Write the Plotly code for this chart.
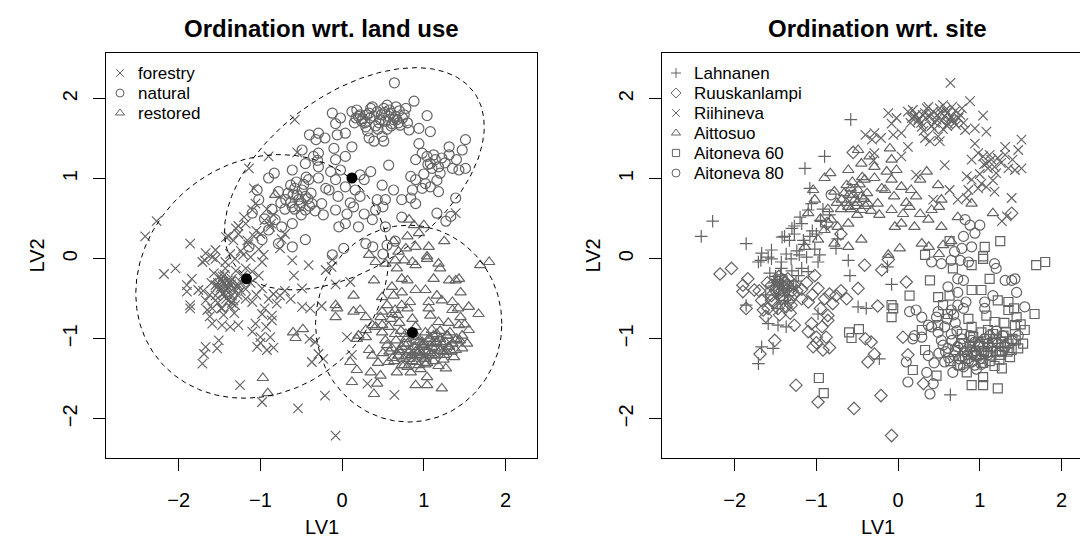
import numpy as np
import plotly.graph_objects as go

# ---------------- data ----------------
sites = ["Lahnanen", "Ruuskanlampi", "Riihineva", "Aittosuo", "Aitoneva 60", "Aitoneva 80"]
site_land_use = ["forestry", "forestry", "natural", "natural", "restored", "restored"]
land_uses = ["forestry", "natural", "restored"]

lahnanen_x = [-2.41, -2.27, -1.86, -0.58, -0.90, -1.14, -1.08, -1.39, -1.27, -1.10, -1.06, -1.18, -1.55, -1.67,
              -1.42, -1.37, -1.59, -1.68, -1.16, -1.71, -1.86, -1.59, -1.47, -1.37, -1.67, -1.53, -1.71,
              -0.98, -0.59, -0.49, -0.39, -0.08, -0.23, 0.64, -0.74, -1.55, -1.43, -1.31, -1.18, -1.10, -0.98,
              -1.22, -1.35, -0.61, -1.27, -1.33, -1.00, -0.76, -1.45, -1.40, -1.50, -1.28, -1.62, -1.44, -1.36,
              -1.52, -0.13, -0.96,
              -1.48, -1.41, -1.33, -1.46, -1.39, -1.52, -1.30, -1.25, -1.57, -1.35, -1.43, -1.21, -1.15, -1.05,
              -0.95, -1.20, -1.02, -0.88, -1.12, -0.92, -1.30, -1.24, -1.08, -0.84, -1.48]
lahnanen_y = [0.28, 0.47, 0.19, 1.74, 1.28, 1.13, 0.88, 0.28, 0.41, 0.61, 0.69, 0.44, 0.11, 0.07,
              0.27, 0.06, 0.02, -0.02, 0.23, -0.04, -0.58, -0.81, -0.83, -0.85, -1.10, -1.12, -1.31,
              -0.69, -0.21, -0.60, -0.62, -0.32, -1.25, -1.70, 0.25, 0.00, -0.04, 0.00, -0.12, -0.16, -0.04,
              -0.21, -0.46, -0.02, 0.31, 0.23, 0.31, 0.13, -0.30, -0.38, -0.22, -0.35, -0.45, -0.20, -0.28,
              -0.34, -0.10, 0.05,
              -0.26, -0.33, -0.37, -0.44, -0.52, -0.30, -0.15, -0.28, -0.18, -0.55, -0.12, 0.05, 0.18, 0.35,
              0.48, 0.52, 0.12, 0.40, 0.02, 0.62, 0.38, 0.10, 0.28, 0.55, -0.62]

ruuskanlampi_x = [-2.18, -2.04, -1.84, -1.90, -1.90, -1.76, -1.67, -1.86, -1.65, -1.59, -1.55, -1.47, -1.35,
                  -1.27, -1.18, -1.10, -1.02, -0.98, -0.90, -0.84, -0.76, -0.63, -0.49, -0.41, -0.86, -0.86,
                  -1.06, -1.10, -1.00, -1.04, -0.92, -0.84, -1.27, -1.51, -1.69, -1.25, -0.98, -0.54, -0.37,
                  -1.55, -1.43, -1.31, -1.47, -0.12, -0.20, 0.10, -0.25, 0.06, 0.12, 0.31, -0.21, -0.08,
                  -0.33, -0.29, -0.40, -0.55, 1.39, -0.87, -0.70, -1.40, -1.45, -1.38, -1.50, -1.42, -1.30,
                  -1.42, -1.36, -1.49, -1.55, -1.33, -1.46, -1.28, -1.40, -1.60, -1.24, -1.52, -1.37, -1.18,
                  -1.70, -1.62, -1.12, -1.05, -0.95, -0.80, -0.70, -0.93, -1.00, -0.88, -1.45, -1.32]
ruuskanlampi_y = [-0.19, -0.12, -0.25, -0.33, -0.41, -0.39, -0.52, -0.62, -0.64, -0.62, -0.33, -0.29, -0.25,
                  -0.33, -0.50, -0.54, -0.21, -0.37, -0.50, -0.44, -0.46, -0.50, -0.37, -0.08, -0.71, -0.77,
                  -0.81, -0.91, -0.98, -1.10, -1.14, -1.11, -0.83, -1.02, -1.19, -1.58, -1.79, -1.87, -1.29,
                  -0.52, -0.46, -0.58, -0.62, -0.01, -0.14, -0.29, -0.59, -0.98, -1.20, -1.56, -1.71, -2.21,
                  -1.04, -1.19, -1.00, 1.33, 0.57, 0.44, 0.31, -0.35, -0.42, -0.30, -0.40, -0.50, -0.40,
                  -0.40, -0.32, -0.36, -0.46, -0.52, -0.22, -0.45, -0.27, -0.30, -0.40, -0.55, -0.60, -0.38,
                  -0.40, -0.72, -0.30, -0.45, -0.62, -0.56, -0.40, -0.85, -1.05, -0.98, -0.70, -0.68]

riihineva_x = [0.64, 0.88, 0.78, 1.04, -0.12, -0.02, -0.08, 0.12, 0.18, 0.20, 0.24, 0.29, 0.33, 0.39, 0.43,
               0.47, 0.51, 0.55, 0.57, 0.61, 0.67, 0.71, 0.76, 0.82, 0.94, 1.08, -0.21, -0.06, 0.04, 0.12,
               0.33, 0.39, 0.49, 0.51, 0.04, -0.29, -0.29, 0.94, 1.31, 1.51, 1.47, 0.90, 0.98, 1.04, 1.08,
               1.14, 1.22, 1.31, 1.10, 1.20, 1.35, 1.43, 1.51, 0.84, 0.90, 1.02, 1.08, 1.18, 0.98, 0.86,
               0.57, 0.22, 0.43, 0.63, 0.73, 0.84, 1.39, 1.27, 1.33, -0.40, -0.32, -0.30, 0.30, 0.45, 0.60,
               0.25, 0.65, 0.15, 0.35, 0.70, 0.55,
               0.28, 0.34, 0.41, 0.48, 0.53, 0.58, 0.63, 0.69, 0.74, 0.22, 0.37, 0.44, 0.52, 0.60, 0.66,
               0.31, 0.80, 0.17, 1.05, 1.12, 1.18, 1.26, 1.16, 1.00, 1.40]
riihineva_y = [2.20, 1.97, 1.88, 1.79, 1.82, 1.76, 1.69, 1.84, 1.86, 1.78, 1.72, 1.65, 1.82, 1.78, 1.84,
               1.74, 1.88, 1.92, 1.78, 1.69, 1.74, 1.67, 1.80, 1.61, 1.63, 1.59, 1.51, 1.55, 1.57, 1.40,
               1.51, 1.47, 1.53, 1.47, 1.28, 1.57, 1.32, 1.44, 1.40, 1.49, 1.36, 1.24, 1.32, 1.28, 1.19,
               1.24, 1.26, 1.30, 1.13, 1.07, 1.13, 1.11, 1.13, 1.03, 0.99, 0.94, 0.90, 0.84, 0.88, 0.86,
               1.17, 1.05, 0.74, 0.86, 0.74, 0.76, 0.76, 0.47, 0.53, 1.55, 1.49, 1.23, 1.80, 1.70, 1.82,
               1.75, 1.78, 1.70, 1.88, 1.85, 1.62,
               1.70, 1.76, 1.66, 1.80, 1.72, 1.86, 1.74, 1.70, 1.76, 1.80, 1.90, 1.62, 1.83, 1.66, 1.90,
               1.60, 1.70, 1.76, 1.18, 1.30, 1.15, 1.20, 0.98, 1.06, 1.24]

aittosuo_x = [-0.90, -0.61, -0.45, -0.78, -0.63, -0.49, -0.41, -0.69, -0.61, -0.53, -0.45, -0.37, -0.35, -0.49,
              -0.82, -0.74, -0.90, -0.61, -1.10, -1.02, -1.14, -0.98, -0.78, -0.61, -0.45, -1.04, -0.83,
              0.06, 0.14, 0.27, 0.50, 0.73, 1.16, 0.375, 0.50, -0.08, -0.10, -0.29, -0.29, -0.14, -0.02,
              -0.08, 0.04, -0.16, 0.16, 0.27, 0.35, 0.49, 0.53, 0.90, -0.25, -0.23, -0.08, 0.04, 0.20,
              0.37, 0.41, 0.53, -0.04, 0.02, 0.29, 0.55, 0.65, -0.12, -0.55, -0.50, -0.45, -0.58, -0.40,
              -0.66, -0.58, -0.52, -0.47, -0.42, -0.70, -0.63, -0.56, -0.38, -0.33, -0.75, -0.50, -0.44,
              -0.60, -0.86, -0.95, -0.20, -0.05, 0.10, 0.22]
aittosuo_y = [1.01, 1.11, 1.19, 0.84, 0.92, 0.86, 0.99, 0.74, 0.65, 0.74, 0.61, 0.69, 1.28, 1.36,
              0.49, 0.40, 0.36, 0.44, 0.57, 0.74, 0.15, 0.24, 0.19, 0.15, 0.24, 0.86, 1.07,
              0.56, 0.65, 0.56, 0.65, 0.52, 0.57, 0.15, 0.06, 1.24, 1.38, 1.15, 1.01, 1.09, 1.11,
              0.99, 0.90, 0.86, 0.86, 0.99, 1.09, 0.92, 0.74, 0.69, 0.69, 0.55, 0.61, 0.44, 0.40,
              0.49, 0.61, 0.40, 0.40, 0.13, 0.19, 0.17, 0.22, 0.05, 0.80, 0.70, 0.78, 0.62, 0.66,
              0.82, 0.88, 0.66, 0.93, 0.75, 0.62, 0.70, 0.96, 0.82, 0.60, 0.70, 0.55, 1.02,
              0.80, 0.62, 0.50, 0.88, 0.78, 0.70, 0.78]

aitoneva60_x = [1.69, 1.80, 1.04, 0.90, 0.67, 0.39, 0.14, -0.08, -0.08, -0.06, 0.90, 1.02, 1.12, 1.22, 1.35,
                1.35, 1.45, 1.67, 1.55, 1.43, 1.53, 0.49, 0.63, 0.55, 0.61, 0.49, 0.29, 0.33, 0.18, 0.47,
                0.86, 0.90, 1.02, 1.08, 1.10, 1.18, 1.20, 1.29, 1.35, 1.27, 1.39, 1.47, 1.14, 1.02, 0.90,
                0.82, 0.76, 0.84, 0.90, 1.04, 1.04, 1.22, 1.27, 1.37, 0.98, 0.78, -0.97, -0.91, -0.60,
                -0.48, -0.57, 1.25, 1.06, 0.63, 1.04, 0.33, 1.10, 1.20, 1.30, 1.15, 1.25, 1.40, 0.95, 1.05,
                0.88, 0.96, 1.04, 1.12, 1.18, 1.26, 1.32, 1.44, 0.92, 1.00, 1.08, 1.16, 1.24, 1.34, 0.80,
                0.70, 1.50, 0.64, 1.30, 1.42]
aitoneva60_y = [-0.08, -0.04, 0.00, -0.08, -0.12, -0.27, -0.46, -0.58, -0.73, -0.62, -0.39, -0.39, -0.25,
                -0.52, -0.54, -0.64, -0.73, -0.69, -0.89, -0.83, -1.06, -0.48, -0.46, -0.58, -0.69, -0.83,
                -0.89, -1.14, -1.39, -1.46, -0.75, -0.85, -0.92, -0.71, -0.89, -0.79, -1.00, -0.96, -1.06,
                -1.16, -1.14, -1.12, -1.21, -1.25, -1.16, -1.25, -1.33, -1.42, -1.58, -1.48, -1.58, -1.62,
                -1.37, -1.23, -1.04, -0.94, -1.49, -1.68, -0.92, -0.88, -0.99, 0.22, 0.15, 0.22, 0.03,
                0.05, -1.10, -1.15, -1.10, -1.05, -1.20, -1.00, -1.20, -1.15,
                -1.10, -1.22, -1.30, -1.28, -1.34, -1.04, -0.92, -1.02, -0.98, -1.06, -1.00, -0.94, -1.26,
                -1.16, -1.06, -1.14, -0.82, -1.28, -0.80, -0.62]

aitoneva80_x = [1.18, 1.20, 0.41, 0.53, 0.65, 0.76, 0.86, 0.73, 0.80, 0.61, 0.73, 1.39, 1.43, 1.31, 1.45,
                1.55, 1.16, 1.06, 1.06, 0.73, 0.80, 0.65, 0.49, 0.47, 0.14, 0.22, 0.29, 0.37, 0.41, 0.20,
                0.29, 0.18, 0.10, 0.12, 0.37, 0.35, 0.43, 0.39, 0.53, 0.55, 0.57, 0.67, 0.65, 0.78, 0.73,
                0.69, 0.82, 0.98, 1.06, 1.10, 0.90, 1.02, 1.14, 1.22, 1.31, 1.39, 1.47, 0.90, 0.57, 0.49,
                0.61, 0.73, 0.94, 0.82, 0.88, 1.00, 0.94, 0.80, 0.78, 0.90, 0.69, -0.82, 0.85, 0.95, 1.00,
                0.75, 0.80, 1.10, 0.70, 0.60,
                0.76, 0.84, 0.92, 1.00, 1.08, 1.16, 1.24, 0.70, 0.78, 0.86, 0.94, 1.02, 0.66, 0.72, 0.62,
                0.58, 0.88, 0.96, 1.12, 1.20, 0.50, 0.44, 0.68, 0.83, 1.28]
aitoneva80_y = [-0.06, -0.12, -0.04, -0.06, -0.02, -0.02, -0.04, -0.25, -0.27, -0.35, -0.42, -0.27, -0.25,
                -0.27, -0.42, -0.60, -0.46, -0.54, -0.62, -0.58, -0.62, -0.64, -0.66, -0.73, -0.66, -0.64,
                -0.73, -0.83, -0.85, -0.96, -0.98, -1.00, -1.29, -1.54, -1.21, -1.42, -1.56, -1.69, -1.02,
                -1.08, -1.29, -1.42, -0.94, -1.00, -1.10, -1.21, -1.16, -1.08, -1.00, -1.06, -1.02, -1.16,
                -1.12, -1.06, -1.10, -1.02, -0.96, -1.29, -0.85, -0.92, -1.12, -1.33, -1.33, 0.49, 0.42,
                0.42, 0.32, 0.28, 0.13, 0.15, 0.09, 0.80, -1.20, -1.15, -1.25, -1.25, -1.35, -1.20, -0.80,
                -0.75,
                -1.06, -1.14, -1.18, -1.10, -1.18, -1.04, -1.16, -1.16, -1.22, -1.28, -1.04, -1.32, -1.02,
                -0.90, -1.24, -1.16, -0.96, -1.38, -0.96, -0.90, -1.18, -1.30, -0.70, -0.54, -0.96]

site_x = [lahnanen_x, ruuskanlampi_x, riihineva_x, aittosuo_x, aitoneva60_x, aitoneva80_x]
site_y = [lahnanen_y, ruuskanlampi_y, riihineva_y, aittosuo_y, aitoneva60_y, aitoneva80_y]

# group centroids and dispersion ellipses (per land use)
centroid_x = [-1.17, 0.12, 0.86]
centroid_y = [-0.25, 1.01, -0.92]
ellipse_cx = [-0.98, 0.15, 0.815]
ellipse_cy = [-0.22, 1.00, -0.81]
ellipse_a = [1.64, 1.82, 1.14]
ellipse_b = [1.42, 1.07, 1.23]
ellipse_angle_deg = [42, 37, 0]

tick_vals = [-2, -1, 0, 1, 2]

# ---------------- styling ----------------
W, H = 1080, 555
ML, MT, MB = 106, 53, 97
PLOT_W = W - ML
PLOT_H = H - MT - MB
PX_X = 81.7          # pixels per LV1 unit
PX_Y = 80.0          # pixels per LV2 unit
X_LO = -2.89
Y_LO = -2.49
Y_HI = Y_LO + PLOT_H / PX_Y
L_LEFT, L_RIGHT = 106, 537
R_LEFT, R_RIGHT = 662, 1080

FONT = "Liberation Sans, Arial, Helvetica, sans-serif"
GRAY = "#646464"
site_symbols = ["cross-thin-open", "diamond-open", "x-thin-open", "triangle-up-open", "square-open", "circle-open"]
land_symbols = ["x-thin-open", "circle-open", "triangle-up-open"]
sym_size = {"cross-thin-open": 9, "diamond-open": 9.5, "x-thin-open": 9.5, "triangle-up-open": 10,
            "square-open": 9, "circle-open": 10}
LW = 1.2


def px2paper_x(px):
    return (px - ML) / PLOT_W


def px2paper_y(py):
    return (H - MB - py) / PLOT_H


fig = go.Figure()

# ---- left panel: land use ----
for g, lu in enumerate(land_uses):
    gx, gy = [], []
    for s in range(len(sites)):
        if site_land_use[s] == lu:
            gx += site_x[s]
            gy += site_y[s]
    sym = land_symbols[g]
    fig.add_trace(go.Scatter(x=gx, y=gy, mode="markers", xaxis="x", yaxis="y", showlegend=False,
                             marker=dict(symbol=sym, size=sym_size[sym], color=GRAY,
                                         line=dict(width=LW, color=GRAY))))

t = np.linspace(0, 2 * np.pi, 240)
for g in range(len(land_uses)):
    phi = np.deg2rad(ellipse_angle_deg[g])
    ex = ellipse_cx[g] + ellipse_a[g] * np.cos(t) * np.cos(phi) - ellipse_b[g] * np.sin(t) * np.sin(phi)
    ey = ellipse_cy[g] + ellipse_a[g] * np.cos(t) * np.sin(phi) + ellipse_b[g] * np.sin(t) * np.cos(phi)
    fig.add_trace(go.Scatter(x=ex, y=ey, mode="lines", xaxis="x", yaxis="y", showlegend=False,
                             line=dict(color="black", width=1, dash="5px,4px")))

fig.add_trace(go.Scatter(x=centroid_x, y=centroid_y, mode="markers", xaxis="x", yaxis="y", showlegend=False,
                         marker=dict(symbol="circle", size=11, color="black")))

# ---- right panel: site ----
for s in range(len(sites)):
    sym = site_symbols[s]
    fig.add_trace(go.Scatter(x=site_x[s], y=site_y[s], mode="markers", xaxis="x2", yaxis="y2",
                             showlegend=False,
                             marker=dict(symbol=sym, size=sym_size[sym], color=GRAY,
                                         line=dict(width=LW, color=GRAY))))

# ---- legends (R style: symbol + text, no box) ----
LEG_ROW0, LEG_DY = 73, 20
LEG_SYM_DX, LEG_TXT_DX = 14, 30
annotations = []


def add_legend(labels, symbols, panel_left, xa, ya):
    for i, (lab, sym) in enumerate(zip(labels, symbols)):
        py = LEG_ROW0 + i * LEG_DY
        sx = X_LO + LEG_SYM_DX / PX_X
        sy = Y_HI - (py - MT) / PX_Y
        fig.add_trace(go.Scatter(x=[sx], y=[sy], mode="markers", xaxis=xa, yaxis=ya, showlegend=False,
                                 marker=dict(symbol=sym, size=sym_size[sym] * 0.8, color=GRAY,
                                             line=dict(width=1.0, color=GRAY))))
        annotations.append(dict(text=lab, x=px2paper_x(panel_left + LEG_TXT_DX), y=px2paper_y(py),
                                xref="paper", yref="paper", xanchor="left", yanchor="middle",
                                showarrow=False, font=dict(family=FONT, size=17, color="black")))


add_legend(land_uses, land_symbols, L_LEFT, "x", "y")
add_legend(sites, site_symbols, R_LEFT, "x2", "y2")

# ---- titles and axis titles ----
for cx, title in [((L_LEFT + L_LEFT + 431) / 2, "Ordination wrt. land use"),
                  ((R_LEFT + R_LEFT + 431) / 2, "Ordination wrt. site")]:
    annotations.append(dict(text="<b>" + title + "</b>", x=px2paper_x(cx), y=px2paper_y(29),
                            xref="paper", yref="paper", xanchor="center", yanchor="middle",
                            showarrow=False, font=dict(family=FONT, size=24, color="black")))
    annotations.append(dict(text="LV1", x=px2paper_x(cx), y=px2paper_y(527),
                            xref="paper", yref="paper", xanchor="center", yanchor="middle",
                            showarrow=False, font=dict(family=FONT, size=20, color="black")))
for lx in [L_LEFT - 70, R_LEFT - 70]:
    annotations.append(dict(text="LV2", x=px2paper_x(lx), y=px2paper_y((MT + H - MB) / 2),
                            xref="paper", yref="paper", xanchor="center", yanchor="middle", textangle=-90,
                            showarrow=False, font=dict(family=FONT, size=20, color="black")))

axis_common = dict(showgrid=False, zeroline=False, showline=True, linecolor="black", linewidth=1,
                   ticks="outside", ticklen=12, tickwidth=1, tickcolor="black",
                   tickvals=tick_vals, tickfont=dict(family=FONT, size=20, color="black"))

fig.update_layout(
    width=W, height=H, margin=dict(l=ML, r=0, t=MT, b=MB, pad=0),
    paper_bgcolor="white", plot_bgcolor="white", showlegend=False,
    xaxis=dict(domain=[0, (L_RIGHT - ML) / PLOT_W], range=[X_LO, X_LO + (L_RIGHT - L_LEFT) / PX_X],
               anchor="y", mirror=True, ticklabelstandoff=12, **axis_common),
    yaxis=dict(domain=[0, 1], range=[Y_LO, Y_HI], anchor="x", mirror=True, tickangle=-90,
               ticklabelstandoff=8, **axis_common),
    xaxis2=dict(domain=[(R_LEFT - ML) / PLOT_W, 1], range=[X_LO, X_LO + (R_RIGHT - R_LEFT) / PX_X],
                anchor="y2", mirror=True, ticklabelstandoff=12, **axis_common),
    yaxis2=dict(domain=[0, 1], range=[Y_LO, Y_HI], anchor="x2", mirror=False, tickangle=-90,
                ticklabelstandoff=8, **axis_common),
    annotations=annotations,
)

fig.write_html("out.html")
